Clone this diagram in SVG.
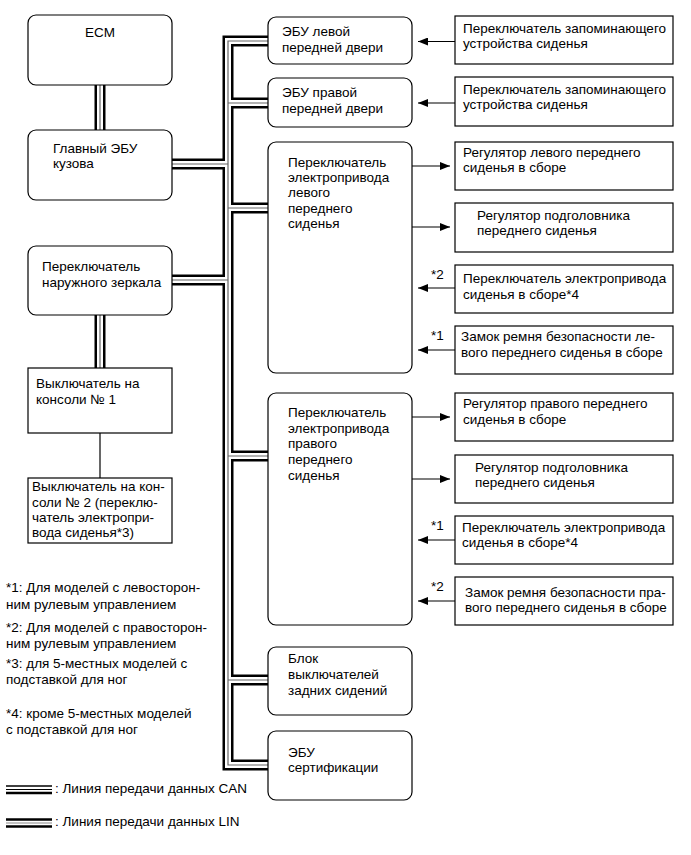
<svg xmlns="http://www.w3.org/2000/svg" width="691" height="855" viewBox="0 0 691 855">
<style>
text{font-family:"Liberation Sans",Arial,sans-serif;font-size:13.5px;fill:#000}
.rb{fill:#fff;stroke:#000;stroke-width:1.2}
.sb{fill:#fff;stroke:#000;stroke-width:1.2}
.bk{fill:none;stroke:#000;stroke-width:11;stroke-linejoin:miter}
.wh{fill:none;stroke:#fff;stroke-width:6;stroke-linejoin:miter}
.gr{fill:none;stroke:#666;stroke-width:1.2}
.ar{fill:none;stroke:#000;stroke-width:1.2;marker-end:url(#ah)}
.ln{fill:none;stroke:#000;stroke-width:1.2}
</style>
<defs>
<marker id="ah" viewBox="0 0 10 8" refX="10" refY="4" markerWidth="10" markerHeight="8" markerUnits="userSpaceOnUse" orient="auto">
<path d="M0,0 L10,4 L0,8 Z" fill="#000"/>
</marker>
</defs>
<rect width="691" height="855" fill="#fff"/>

<g id="connectors">
<path id="bus" class="bk" d="M268,41 H228 V765 H268 M228,103 H268 M228,208 H268 M228,456 H268 M228,680 H268 M172,164 H228 M172,280 H228 M100,85 V130 M100,315 V368"/>
<path class="wh" d="M268,41 H228 V765 H268 M228,103 H268 M228,208 H268 M228,456 H268 M228,680 H268 M172,164 H228 M172,280 H228 M100,85 V130 M100,315 V368"/>
<path class="gr" d="M268,41 H228 V765 H268 M228,103 H268 M228,208 H268 M228,456 H268 M228,680 H268 M172,164 H228 M172,280 H228 M100,85 V130 M100,315 V368"/>
<path class="ln" d="M100,433 V478"/>
<path class="ar" d="M455,41.5 H418"/>
<path class="ar" d="M455,103 H418"/>
<path class="ar" d="M412,166 H450"/>
<path class="ar" d="M412,227 H450"/>
<path class="ar" d="M455,288 H418"/>
<path class="ar" d="M455,350 H418"/>
<path class="ar" d="M412,417 H450"/>
<path class="ar" d="M412,479 H450"/>
<path class="ar" d="M455,540 H418"/>
<path class="ar" d="M455,601 H418"/>
<text x="431" y="279">*2</text>
<text x="431" y="340">*1</text>
<text x="431" y="530">*1</text>
<text x="431" y="591">*2</text>
</g>

<g id="ecm"><rect class="rb" x="28" y="15" width="144" height="70" rx="8"/><text x="100" y="37" text-anchor="middle">ECM</text></g>
<g id="main-body-ecu"><rect class="rb" x="28" y="130" width="144" height="70" rx="8"/><text x="53" y="153">Главный ЭБУ</text><text x="53" y="168">кузова</text></g>
<g id="mirror-switch"><rect class="rb" x="28" y="246" width="144" height="69" rx="8"/><text x="42" y="271">Переключатель</text><text x="42" y="287">наружного зеркала</text></g>
<g id="console-1"><rect class="sb" x="28" y="368" width="144" height="65"/><text x="36" y="388">Выключатель на</text><text x="36" y="404">консоли № 1</text></g>
<g id="console-2"><rect class="sb" x="28" y="478" width="144" height="65"/><text x="32" y="491">Выключатель на кон-</text><text x="32" y="506.5">соли № 2 (переклю-</text><text x="32" y="522">чатель электропри-</text><text x="32" y="537">вода сиденья*3)</text></g>

<g id="door-ecu-l"><rect class="rb" x="268" y="17" width="144" height="47" rx="8"/><text x="282" y="36">ЭБУ левой</text><text x="282" y="52">передней двери</text></g>
<g id="door-ecu-r"><rect class="rb" x="268" y="78" width="144" height="49" rx="8"/><text x="282" y="97">ЭБУ правой</text><text x="282" y="113">передней двери</text></g>
<g id="lf-seat-switch"><rect class="rb" x="268" y="142" width="144" height="231" rx="8"/><text x="288" y="167">Переключатель</text><text x="288" y="182">электропривода</text><text x="288" y="197">левого</text><text x="288" y="213">переднего</text><text x="288" y="228">сиденья</text></g>
<g id="rf-seat-switch"><rect class="rb" x="268" y="393" width="144" height="232" rx="8"/><text x="288" y="417">Переключатель</text><text x="288" y="433">электропривода</text><text x="288" y="448">правого</text><text x="288" y="464">переднего</text><text x="288" y="480">сиденья</text></g>
<g id="rear-seat-block"><rect class="rb" x="268" y="647" width="144" height="68" rx="8"/><text x="288" y="663">Блок</text><text x="288" y="679">выключателей</text><text x="288" y="695">задних сидений</text></g>
<g id="cert-ecu"><rect class="rb" x="268" y="731" width="144" height="69" rx="8"/><text x="288" y="757">ЭБУ</text><text x="288" y="772">сертификации</text></g>

<g id="mem-switch-l"><rect class="sb" x="455" y="16" width="218" height="48"/><text x="463" y="33">Переключатель запоминающего</text><text x="463" y="48">устройства сиденья</text></g>
<g id="mem-switch-r"><rect class="sb" x="455" y="77" width="218" height="49"/><text x="463" y="94">Переключатель запоминающего</text><text x="463" y="109">устройства сиденья</text></g>
<g id="lf-seat-adj"><rect class="sb" x="455" y="142" width="218" height="48"/><text x="463" y="157">Регулятор левого переднего</text><text x="463" y="172">сиденья в сборе</text></g>
<g id="lf-headrest"><rect class="sb" x="455" y="203" width="218" height="49"/><text x="477" y="220">Регулятор подголовника</text><text x="477" y="235">переднего сиденья</text></g>
<g id="lf-power-switch"><rect class="sb" x="455" y="265" width="218" height="48"/><text x="463" y="283">Переключатель электропривода</text><text x="463" y="299">сиденья в сборе*4</text></g>
<g id="lf-buckle"><rect class="sb" x="455" y="326" width="218" height="48"/><text x="461" y="341">Замок ремня безопасности ле-</text><text x="461" y="357">вого переднего сиденья в сборе</text></g>
<g id="rf-seat-adj"><rect class="sb" x="455" y="393" width="218" height="48"/><text x="463" y="408">Регулятор правого переднего</text><text x="463" y="424">сиденья в сборе</text></g>
<g id="rf-headrest"><rect class="sb" x="455" y="455" width="218" height="48"/><text x="475" y="472">Регулятор подголовника</text><text x="475" y="487">переднего сиденья</text></g>
<g id="rf-power-switch"><rect class="sb" x="455" y="516" width="218" height="48"/><text x="462" y="532">Переключатель электропривода</text><text x="462" y="547">сиденья в сборе*4</text></g>
<g id="rf-buckle"><rect class="sb" x="455" y="577" width="218" height="48"/><text x="465" y="597">Замок ремня безопасности пра-</text><text x="465" y="612">вого переднего сиденья в сборе</text></g>

<g id="notes">
<text x="6" y="592">*1: Для моделей с левосторон-</text>
<text x="6" y="609">ним рулевым управлением</text>
<text x="6" y="632">*2: Для моделей с правосторон-</text>
<text x="6" y="648">ним рулевым управлением</text>
<text x="6" y="668">*3: для 5-местных моделей с</text>
<text x="6" y="684">подставкой для ног</text>
<text x="6" y="718">*4: кроме 5-местных моделей</text>
<text x="6" y="734">с подставкой для ног</text>
</g>
<g id="legend">
<path d="M6,786 H52" stroke="#000" stroke-width="1.5"/>
<path d="M6,789.5 H52" stroke="#000" stroke-width="1"/>
<path d="M6,793 H52" stroke="#000" stroke-width="2.5"/>
<text x="55" y="793">: Линия передачи данных CAN</text>
<path d="M6,819.5 H52" stroke="#000" stroke-width="2.5"/>
<path d="M6,823 H52" stroke="#888" stroke-width="1"/>
<path d="M6,826.5 H52" stroke="#000" stroke-width="2.5"/>
<text x="55" y="826">: Линия передачи данных LIN</text>
</g>
</svg>
